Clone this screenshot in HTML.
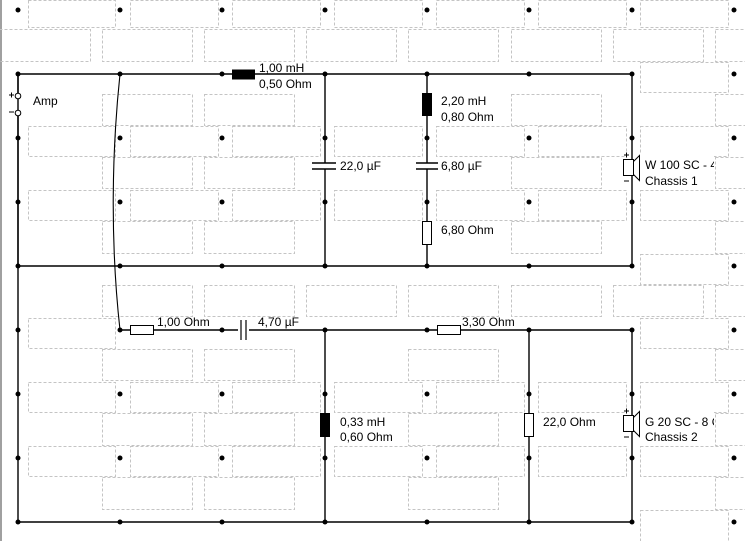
<!DOCTYPE html>
<html><head><meta charset="utf-8"><style>
html,body{margin:0;padding:0;background:#fff;width:745px;height:541px;overflow:hidden}
svg{display:block}
text{font-family:"Liberation Sans",Arial,sans-serif;font-size:12px;fill:#000}
.r{fill:none;stroke:#c4c4c4;stroke-width:1;stroke-dasharray:3,2}
.w{stroke:#000;stroke-width:1.4;fill:none}
</style></head><body>
<svg width="745" height="541" viewBox="0 0 745 541" xmlns="http://www.w3.org/2000/svg">
<rect x="0" y="0" width="2" height="541" fill="#a0a0a0"/>
<g class="r">
<g>
<rect x="28.5" y="0.5" width="87" height="27"/><rect x="130.5" y="0.5" width="88" height="27"/><rect x="232.5" y="0.5" width="88" height="27"/><rect x="334.5" y="0.5" width="88" height="27"/><rect x="436.5" y="0.5" width="88" height="27"/><rect x="538.5" y="0.5" width="88" height="27"/><rect x="640.5" y="0.5" width="88" height="27"/>
</g>
<rect x="-5.5" y="29.5" width="96" height="32"/><rect x="102.5" y="29.5" width="90" height="32"/><rect x="204.5" y="29.5" width="90" height="32"/><rect x="306.5" y="29.5" width="90" height="32"/><rect x="408.5" y="29.5" width="90" height="32"/><rect x="511.5" y="29.5" width="90" height="32"/><rect x="613.5" y="29.5" width="90" height="32"/><rect x="715.5" y="29.5" width="40" height="32"/>
<rect x="640.5" y="62.5" width="88" height="30"/>
<rect x="102.5" y="94.5" width="90" height="31"/><rect x="204.5" y="94.5" width="90" height="31"/><rect x="511.5" y="94.5" width="90" height="31"/><rect x="715.5" y="94.5" width="40" height="31"/>
<g transform="translate(0,126)"><rect x="28.5" y="0.5" width="87" height="30"/><rect x="130.5" y="0.5" width="88" height="30"/><rect x="232.5" y="0.5" width="88" height="30"/><rect x="334.5" y="0.5" width="88" height="30"/><rect x="436.5" y="0.5" width="88" height="30"/><rect x="538.5" y="0.5" width="88" height="30"/><rect x="640.5" y="0.5" width="88" height="30"/></g>
<rect x="102.5" y="157.5" width="90" height="31"/><rect x="204.5" y="157.5" width="90" height="31"/><rect x="511.5" y="157.5" width="90" height="31"/><rect x="715.5" y="157.5" width="40" height="31"/>
<g transform="translate(0,190)"><rect x="28.5" y="0.5" width="87" height="30"/><rect x="130.5" y="0.5" width="88" height="30"/><rect x="232.5" y="0.5" width="88" height="30"/><rect x="334.5" y="0.5" width="88" height="30"/><rect x="436.5" y="0.5" width="88" height="30"/><rect x="538.5" y="0.5" width="88" height="30"/><rect x="640.5" y="0.5" width="88" height="30"/></g>
<rect x="102.5" y="221.5" width="90" height="32"/><rect x="204.5" y="221.5" width="90" height="32"/><rect x="511.5" y="221.5" width="90" height="32"/><rect x="715.5" y="221.5" width="40" height="32"/>
<rect x="640.5" y="254.5" width="88" height="30"/>
<rect x="102.5" y="285.5" width="90" height="31"/><rect x="204.5" y="285.5" width="90" height="31"/><rect x="306.5" y="285.5" width="90" height="31"/><rect x="408.5" y="285.5" width="90" height="31"/><rect x="511.5" y="285.5" width="90" height="31"/><rect x="613.5" y="285.5" width="90" height="31"/><rect x="715.5" y="285.5" width="40" height="31"/>
<rect x="28.5" y="318.5" width="87" height="30"/><rect x="640.5" y="318.5" width="88" height="30"/>
<rect x="102.5" y="349.5" width="90" height="31"/><rect x="204.5" y="349.5" width="90" height="31"/><rect x="408.5" y="349.5" width="90" height="31"/><rect x="715.5" y="349.5" width="40" height="31"/>
<g transform="translate(0,382)"><rect x="28.5" y="0.5" width="87" height="30"/><rect x="130.5" y="0.5" width="88" height="30"/><rect x="232.5" y="0.5" width="88" height="30"/><rect x="334.5" y="0.5" width="88" height="30"/><rect x="436.5" y="0.5" width="88" height="30"/><rect x="538.5" y="0.5" width="88" height="30"/><rect x="640.5" y="0.5" width="88" height="30"/></g>
<rect x="102.5" y="413.5" width="90" height="32"/><rect x="204.5" y="413.5" width="90" height="32"/><rect x="408.5" y="413.5" width="90" height="32"/><rect x="715.5" y="413.5" width="40" height="32"/>
<g transform="translate(0,446)"><rect x="28.5" y="0.5" width="87" height="30"/><rect x="130.5" y="0.5" width="88" height="30"/><rect x="232.5" y="0.5" width="88" height="30"/><rect x="334.5" y="0.5" width="88" height="30"/><rect x="436.5" y="0.5" width="88" height="30"/><rect x="538.5" y="0.5" width="88" height="30"/><rect x="640.5" y="0.5" width="88" height="30"/></g>
<rect x="102.5" y="477.5" width="90" height="32"/><rect x="204.5" y="477.5" width="90" height="32"/><rect x="408.5" y="477.5" width="90" height="32"/><rect x="715.5" y="477.5" width="40" height="32"/>
<rect x="640.5" y="510.5" width="88" height="40"/>
</g>
<rect x="640" y="153" width="74" height="36" fill="#fff"/>
<rect x="640" y="410" width="74" height="36" fill="#fff"/>
<g class="w">
<path d="M18 74H632V266H18V74"/>
<path d="M18 74V93M18 116V522H632V330H120"/>
<path d="M325 74V163M325 169V266"/>
<path d="M427 74V163M427 169V266"/>
<path d="M325 330V522M529 330V522"/>
<path d="M120 74 C112 150 110 240 120 330" stroke-width="1.1"/>
<path d="M312 163H336M312 169H336M416 163H438M416 169H438"/>
</g>
<rect x="238" y="320" width="11" height="20" fill="#fff"/>
<path d="M241 320V340M246 320V340" stroke="#000" stroke-width="1.2"/>
<rect x="232" y="69.5" width="23" height="10" fill="#000"/>
<rect x="422" y="93" width="10" height="23" fill="#000"/>
<rect x="320" y="413" width="10" height="24" fill="#000"/>
<g fill="#fff" stroke="#000" stroke-width="1">
<rect x="422.5" y="221.5" width="9" height="23"/>
<rect x="524.5" y="413.5" width="9" height="23"/>
<rect x="130.5" y="325.5" width="23" height="9"/>
<rect x="437.5" y="325.5" width="23" height="9"/>
<rect x="623.5" y="159.5" width="10" height="16"/>
<rect x="623.5" y="415.5" width="10" height="16"/>
</g>
<g stroke="#000" stroke-width="1" fill="none">
<path d="M633.5 161.5L639.5 155.5V180.5L633.5 174.5"/>
<path d="M633.5 417.5L639.5 411.5V436.5L633.5 430.5"/>
<path d="M624 155H629M626.5 152.5V157.5M624 181H629"/>
<path d="M624 411H629M626.5 408.5V413.5M624 437H629"/>
<circle cx="18" cy="96" r="2.8" fill="#fff"/>
<circle cx="18" cy="113" r="2.8" fill="#fff"/>
<path d="M9 95H14M11.5 92.5V97.5M9 112H14"/>
</g>
<g fill="#000" id="dots">
<circle cx="18" cy="10" r="2.5"/><circle cx="120" cy="10" r="2.5"/><circle cx="222" cy="10" r="2.5"/><circle cx="325" cy="10" r="2.5"/><circle cx="427" cy="10" r="2.5"/><circle cx="529" cy="10" r="2.5"/><circle cx="632" cy="10" r="2.5"/><circle cx="734" cy="10" r="2.5"/>
</g>
<use href="#dots" y="64"/><use href="#dots" y="128"/><use href="#dots" y="192"/><use href="#dots" y="256"/><use href="#dots" y="320"/><use href="#dots" y="384"/><use href="#dots" y="448"/><use href="#dots" y="512"/>
<text x="33" y="105">Amp</text>
<text x="259" y="72">1,00 mH</text><text x="259" y="88">0,50 Ohm</text>
<text x="441" y="105">2,20 mH</text><text x="441" y="121">0,80 Ohm</text>
<text x="340" y="170">22,0 µF</text>
<text x="441" y="170">6,80 µF</text>
<text x="441" y="234">6,80 Ohm</text>
<svg x="640" y="150" width="74" height="44"><text x="5" y="19">W 100 SC - 4 Ohm</text><text x="5" y="35">Chassis 1</text></svg>
<text x="157" y="326">1,00 Ohm</text>
<text x="258" y="326">4,70 µF</text>
<text x="462" y="326">3,30 Ohm</text>
<text x="340" y="426">0,33 mH</text><text x="340" y="441">0,60 Ohm</text>
<text x="543" y="426">22,0 Ohm</text>
<svg x="640" y="406" width="74" height="44"><text x="5" y="20">G 20 SC - 8 Ohm</text><text x="5" y="35">Chassis 2</text></svg>
</svg>
</body></html>
